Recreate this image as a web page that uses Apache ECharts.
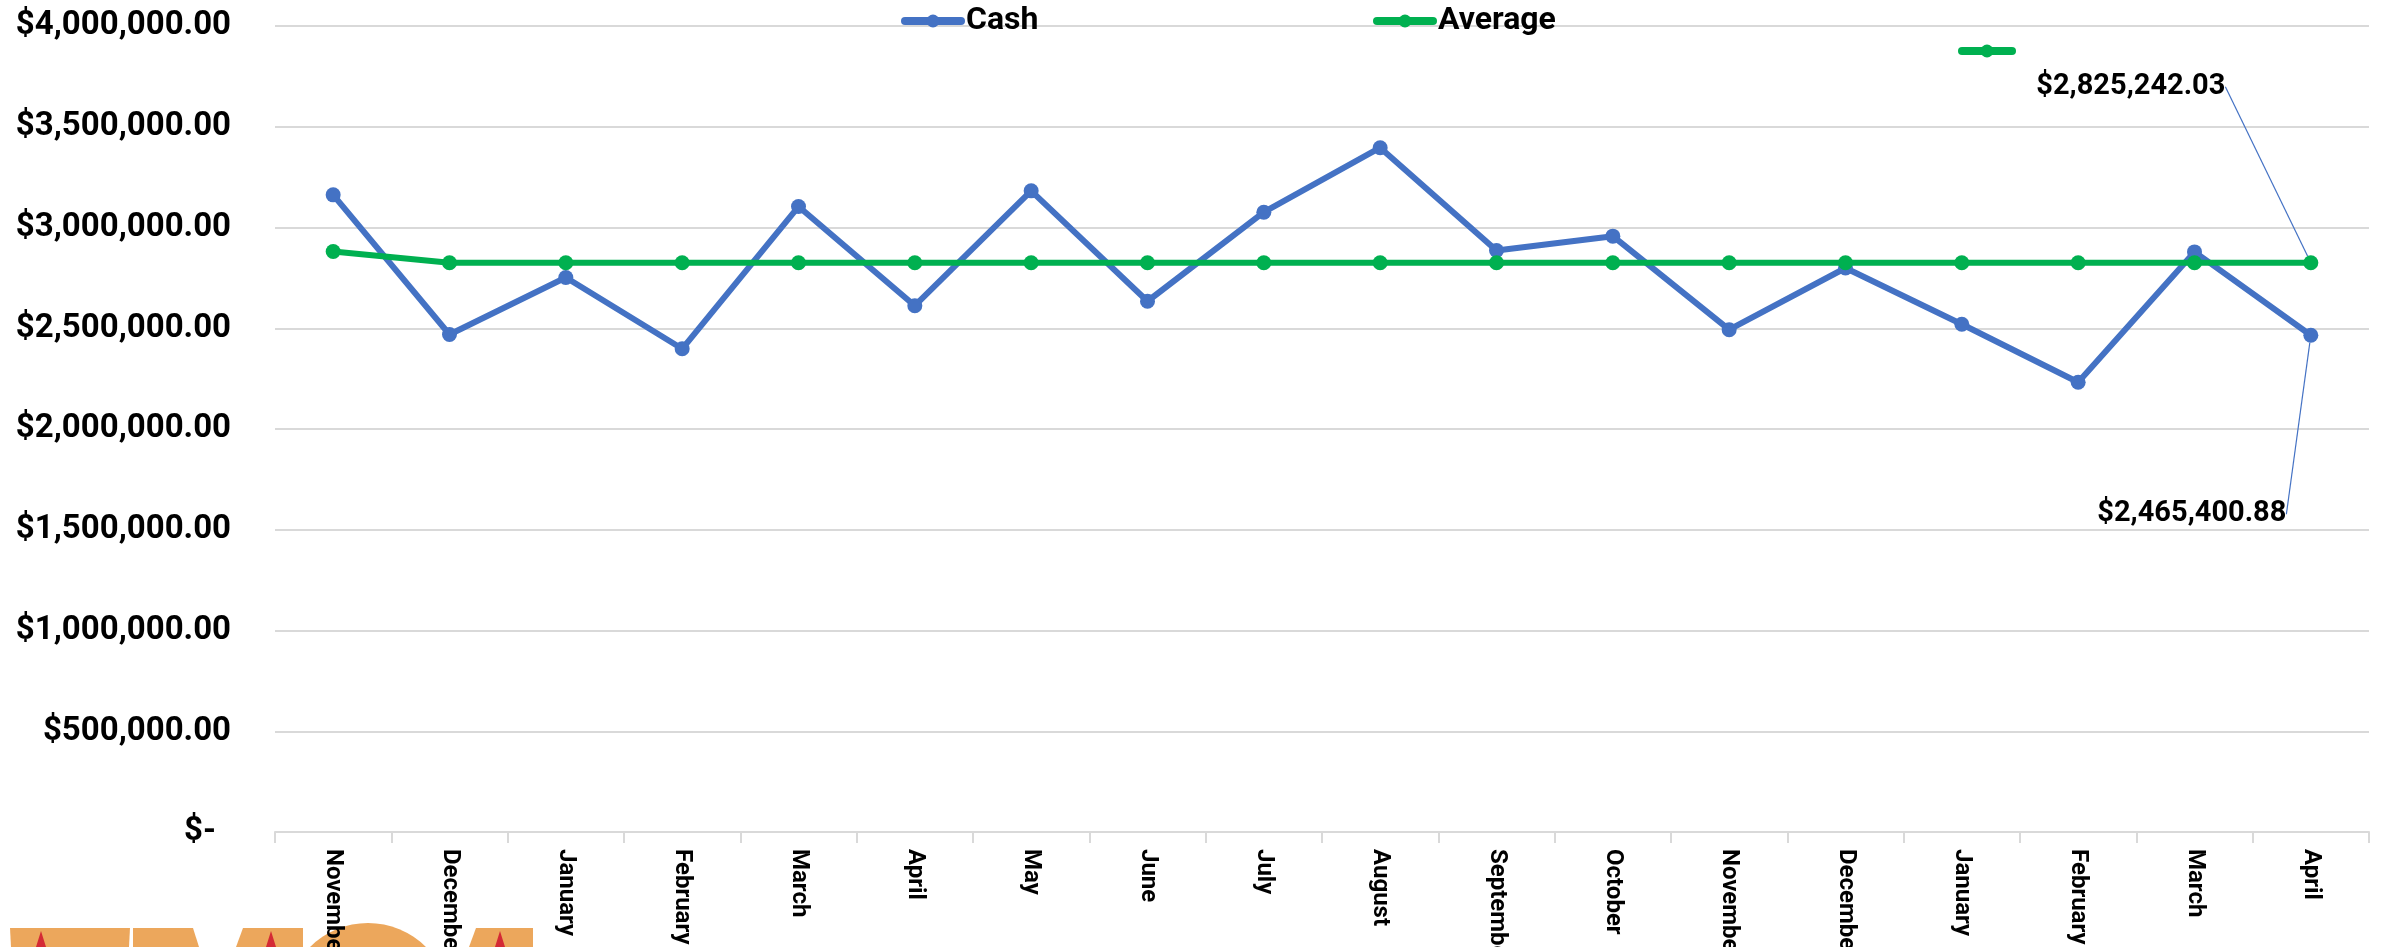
<!DOCTYPE html>
<html>
<head>
<meta charset="utf-8">
<title>Cash</title>
<script src="https://cdn.jsdelivr.net/npm/echarts@6/dist/echarts.min.js"></script>
<style>
  html, body { margin: 0; padding: 0; background: #fff; }
  #chart { width: 2387px; height: 947px; }
</style>
</head>
<body>
<div id="chart"></div>
<script>
// 月份 (x 轴)
const months = [
  "November", "December", "January", "February", "March", "April",
  "May", "June", "July", "August", "September", "October",
  "November", "December", "January", "February", "March", "April"
];
// 现金
const cash = [
  3162000, 2469000, 2752000, 2398000, 3104000, 2612000,
  3182000, 2634000, 3076000, 3396000, 2886000, 2957000,
  2493000, 2799000, 2520000, 2232000, 2879000, 2465400.88
];
// 平均值
const average = [
  2881000, 2825242.03, 2825242.03, 2825242.03, 2825242.03, 2825242.03,
  2825242.03, 2825242.03, 2825242.03, 2825242.03, 2825242.03, 2825242.03,
  2825242.03, 2825242.03, 2825242.03, 2825242.03, 2825242.03, 2825242.03
];
// y 轴刻度
const yTicks = { min: 0, max: 4000000, interval: 500000 };

const BLUE = "#4472C4";
const GREEN = "#00B050";
const FONT = "Roboto";

function money(v) {
  return "$" + v.toLocaleString("en-US", { minimumFractionDigits: 2, maximumFractionDigits: 2 });
}

// 只给最后一个点加标签
function withLastLabel(arr, pos) {
  return arr.map((v, i) => i === arr.length - 1 ? {
    value: v,
    label: { show: true, position: pos }
  } : v);
}

const chart = echarts.init(document.getElementById("chart"));

const lastLabel = {
  show: false,
  formatter: p => money(p.value),
  fontFamily: FONT,
  fontWeight: "bold",
  fontSize: 29,
  color: "#000"
};

// 左下角被裁掉的 logo
const orange = "#ECA75C";
const red = "#D42A35";
const logo = [
  { type: "polygon", shape: { points: [[10, 928], [130, 928], [129, 947], [11, 947]] } },
  { type: "polygon", shape: { points: [[133, 928], [193, 928], [199, 947], [133, 947]] } },
  { type: "polygon", shape: { points: [[243, 928], [303, 928], [303, 947], [236, 947]] } },
  { type: "circle", shape: { cx: 368, cy: 1005, r: 82 } },
  { type: "polygon", shape: { points: [[476, 928], [533, 928], [533, 947], [469, 947]] } }
].map(g => Object.assign(g, { style: { fill: orange }, z: -10, silent: true }));
[41, 271, 500].forEach(x => logo.push({
  type: "polygon",
  shape: { points: [[x - 5, 947], [x, 931], [x + 5, 947]] },
  style: { fill: red }, z: -9, silent: true
}));

const legendBase = {
  orient: "horizontal",
  itemWidth: 56,
  itemHeight: 16,
  itemGap: 10,
  lineStyle: { width: 8, cap: "round" },
  textStyle: { fontFamily: FONT, fontWeight: "bold", fontSize: 32, color: "#000" },
  selectedMode: false
};

chart.setOption({
  animation: false,
  backgroundColor: "#fff",
  graphic: logo,
  legend: [
    Object.assign({}, legendBase, { data: ["Cash"], left: 896, top: 0 }),
    Object.assign({}, legendBase, { data: ["Average"], left: 1368, top: 0 }),
    Object.assign({}, legendBase, { data: [" "], left: 1953, top: 30, itemWidth: 50 })
  ],
  grid: { left: 275, right: 18, top: 26, bottom: 115, outerBoundsMode: "none" },
  xAxis: {
    type: "category",
    data: months,
    boundaryGap: true,
    axisLine: { lineStyle: { color: "#D9D9D9", width: 2 } },
    axisTick: { show: true, length: 11, lineStyle: { color: "#D9D9D9", width: 2 } },
    axisLabel: {
      rotate: -90,
      interval: 0,
      margin: 17,
      fontFamily: FONT,
      fontWeight: "bold",
      fontSize: 24,
      color: "#000"
    }
  },
  yAxis: {
    type: "value",
    min: yTicks.min,
    max: yTicks.max,
    interval: yTicks.interval,
    axisLine: { show: false },
    axisTick: { show: false },
    splitLine: { lineStyle: { color: "#D9D9D9", width: 2 } },
    axisLabel: {
      margin: 44,
      fontFamily: FONT,
      fontWeight: "bold",
      fontSize: 33,
      color: "#000",
      formatter: v => v === 0 ? "{z|$-}" : money(v),
      rich: {
        z: { fontFamily: FONT, fontWeight: "bold", fontSize: 33, color: "#000", padding: [0, 15, 0, 0] }
      }
    }
  },
  series: [
    {
      name: "Cash",
      type: "line",
      data: withLastLabel(cash, "bottom"),
      color: BLUE,
      lineStyle: { width: 6, color: BLUE },
      symbol: "circle",
      symbolSize: 15,
      label: lastLabel,
      labelLayout: { dx: -119, dy: 152 },
      labelLine: { show: true, lineStyle: { color: BLUE, width: 1.2 } }
    },
    {
      name: "Average",
      type: "line",
      data: withLastLabel(average, "top"),
      color: GREEN,
      lineStyle: { width: 6, color: GREEN },
      symbol: "circle",
      symbolSize: 15,
      label: lastLabel,
      labelLayout: { dx: -180, dy: -149 },
      labelLine: { show: true, lineStyle: { color: BLUE, width: 1.2 } }
    },
    {
      // 图例里的第三项 (没有名字)
      name: " ",
      type: "line",
      data: [],
      color: GREEN,
      lineStyle: { width: 6, color: GREEN },
      symbol: "circle",
      symbolSize: 15
    }
  ]
});
</script>
</body>
</html>
